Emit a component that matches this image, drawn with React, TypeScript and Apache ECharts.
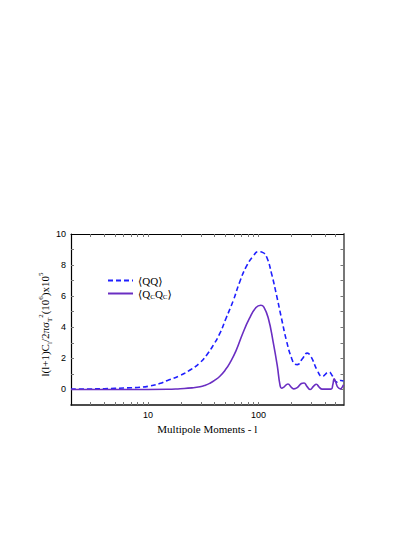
import React, { useEffect, useRef } from "react";
import * as echarts from "echarts";

// multipole l and values (x10^5)
const qqEll = [2, 3, 4, 5, 6, 7, 8, 10, 12.7, 15, 19.5, 24, 29.5, 34, 39, 45, 51, 59, 67.5, 77.5, 89, 100, 110, 119, 132, 146, 162, 180, 200, 215, 225, 250, 277, 300, 341, 378, 435, 465, 516, 560, 590];
const qqVal = [0.02, 0.03, 0.05, 0.07, 0.09, 0.11, 0.13, 0.2, 0.38, 0.58, 0.9, 1.25, 1.72, 2.22, 2.85, 3.65, 4.6, 5.7, 6.9, 7.9, 8.55, 8.86, 8.8, 8.5, 7.4, 6.05, 4.55, 3.1, 2.0, 1.62, 1.6, 1.97, 2.34, 2.1, 1.23, 0.84, 1.12, 0.9, 0.47, 0.58, 0.55];

const qcEll = [2, 5, 10, 15, 19.5, 25, 29.5, 33, 36.3, 40, 44.7, 50, 55, 62.7, 72, 82.6, 95, 105, 112, 123, 136, 148, 157, 162, 170, 185, 200, 210, 225, 245, 259, 275, 295, 315, 335, 355, 378, 455, 472, 485, 500, 523, 555, 575, 590];
const qcVal = [0.0, 0.0, 0.0, 0.01, 0.05, 0.1, 0.17, 0.27, 0.4, 0.58, 0.85, 1.25, 1.7, 2.5, 3.6, 4.55, 5.27, 5.42, 5.3, 4.56, 3.05, 1.55, 0.26, 0.08, 0.15, 0.35, 0.12, 0.04, 0.12, 0.38, 0.42, 0.2, 0.0, 0.2, 0.33, 0.15, 0.02, 0.02, 0.3, 0.68, 0.5, 0.15, 0.04, 0.15, 0.3];

const xMin = 2;
const xMax = 590;
const xLabelTicks = [10, 100];
const xMinorTicks = [3, 4, 5, 6, 7, 8, 9, 10, 20, 30, 40, 50, 60, 70, 80, 90, 100, 200, 300, 400, 500];
const yLabelTicks = [0, 2, 4, 6, 8, 10];
const yMinorTicks = [0, 1, 2, 3, 4, 5, 6, 7, 8, 9];

const lg = (v: number) => Math.log10(v);

export default function App() {
  const ref = useRef<HTMLDivElement>(null);
  useEffect(() => {
    if (!ref.current) return;
    const chart = echarts.init(ref.current, undefined, { renderer: "svg" });
    const serif = "'Liberation Serif', 'DejaVu Serif', serif";
    const sans = "'Liberation Sans', Arial, sans-serif";
    const tickStyle = { color: "#777", width: 1 };
    const xTickVals = xMinorTicks.map(lg);
    const baseX = {
      type: "value" as const,
      min: lg(xMin),
      max: lg(xMax),
      splitLine: { show: false },
    };
    const baseY = {
      type: "value" as const,
      min: -1,
      max: 10,
      splitLine: { show: false },
    };
    chart.setOption({
      animation: false,
      backgroundColor: "#ffffff",
      grid: { left: 71, right: 71.5, top: 234, bottom: 132, containLabel: false },
      legend: {
        left: 107,
        top: 275,
        orient: "vertical",
        itemWidth: 25,
        itemHeight: 10,
        itemGap: 2,
        padding: 0,
        data: ["QQ", "QcQc"],
        itemStyle: { opacity: 0 },
        formatter: (name: string) =>
          name === "QQ" ? "{n|\u27E8QQ\u27E9}" : "{n|\u27E8Q}{s|C}{n|Q}{s|C}{n|\u27E9}",
        textStyle: {
          fontFamily: serif,
          fontSize: 11,
          color: "#000",
          rich: {
            n: { fontFamily: serif, fontSize: 11, color: "#000", lineHeight: 13, verticalAlign: "middle" },
            s: { fontFamily: serif, fontSize: 7, color: "#000", lineHeight: 13, verticalAlign: "bottom" },
          },
        },
      },
      xAxis: [
        {
          ...baseX,
          position: "bottom",
          name: "Multipole Moments - l",
          nameLocation: "middle",
          nameGap: 18,
          nameMoveOverlap: false,
          nameTextStyle: { fontFamily: serif, fontSize: 11, color: "#000" },
          axisLine: { show: true, onZero: false, lineStyle: { color: "#111", width: 1.5 } },
          axisTick: { show: true, inside: true, length: 3, lineStyle: tickStyle, customValues: xTickVals },
          axisLabel: {
            show: true,
            customValues: xLabelTicks.map(lg),
            formatter: (v: number) => String(Math.round(Math.pow(10, v))),
            fontFamily: sans,
            fontSize: 9,
            color: "#000",
            margin: 5,
          },
        },
        {
          ...baseX,
          position: "top",
          axisLine: { show: true, onZero: false, lineStyle: { color: "#000", width: 1 } },
          axisTick: { show: true, inside: true, length: 3, lineStyle: tickStyle, customValues: xTickVals },
          axisLabel: { show: false },
        },
      ],
      yAxis: [
        {
          ...baseY,
          position: "left",
          name: "{n|l(l+1)C}{s|l}{n|/2\u03C0\u03C3}{s|T}{p|2}{n|(10}{p|6}{n|)x10}{p|5}",
          nameLocation: "middle",
          nameRotate: 90,
          nameGap: 18,
          nameMoveOverlap: false,
          nameTextStyle: {
            fontFamily: serif,
            fontSize: 11,
            color: "#000",
            padding: [0, 10, 0, 0],
            rich: {
              n: { fontFamily: serif, fontSize: 11, color: "#000", lineHeight: 16, verticalAlign: "middle" },
              s: { fontFamily: serif, fontSize: 7, color: "#000", lineHeight: 16, verticalAlign: "bottom" },
              p: { fontFamily: serif, fontSize: 7, color: "#000", lineHeight: 16, verticalAlign: "top" },
            },
          },
          axisLine: { show: true, onZero: false, lineStyle: { color: "#000", width: 1.2 } },
          axisTick: { show: true, inside: true, length: 3, lineStyle: tickStyle, customValues: yMinorTicks },
          axisLabel: {
            show: true,
            customValues: yLabelTicks,
            fontFamily: sans,
            fontSize: 9,
            color: "#000",
            margin: 5,
          },
        },
        {
          ...baseY,
          position: "right",
          axisLine: { show: true, onZero: false, lineStyle: { color: "#777", width: 2 } },
          axisTick: { show: true, inside: true, length: 3, lineStyle: tickStyle, customValues: yMinorTicks },
          axisLabel: { show: false },
        },
      ],
      series: [
        {
          name: "QQ",
          type: "line",
          xAxisIndex: 0,
          yAxisIndex: 0,
          data: qqEll.map((l, i) => [lg(l), qqVal[i]]),
          symbol: "none",
          smooth: 0.5,
          lineStyle: { color: "#1f1fff", width: 1.6, type: [5, 3] },
          itemStyle: { color: "#1f1fff" },
        },
        {
          name: "QcQc",
          type: "line",
          xAxisIndex: 0,
          yAxisIndex: 0,
          data: qcEll.map((l, i) => [lg(l), qcVal[i]]),
          symbol: "none",
          smooth: 0.5,
          lineStyle: { color: "#6a2ec2", width: 1.6 },
          itemStyle: { color: "#6a2ec2" },
        },
      ],
    });
    return () => chart.dispose();
  }, []);
  return <div ref={ref} style={{ position: "fixed", left: 0, top: 0, width: 415, height: 537 }} />;
}
